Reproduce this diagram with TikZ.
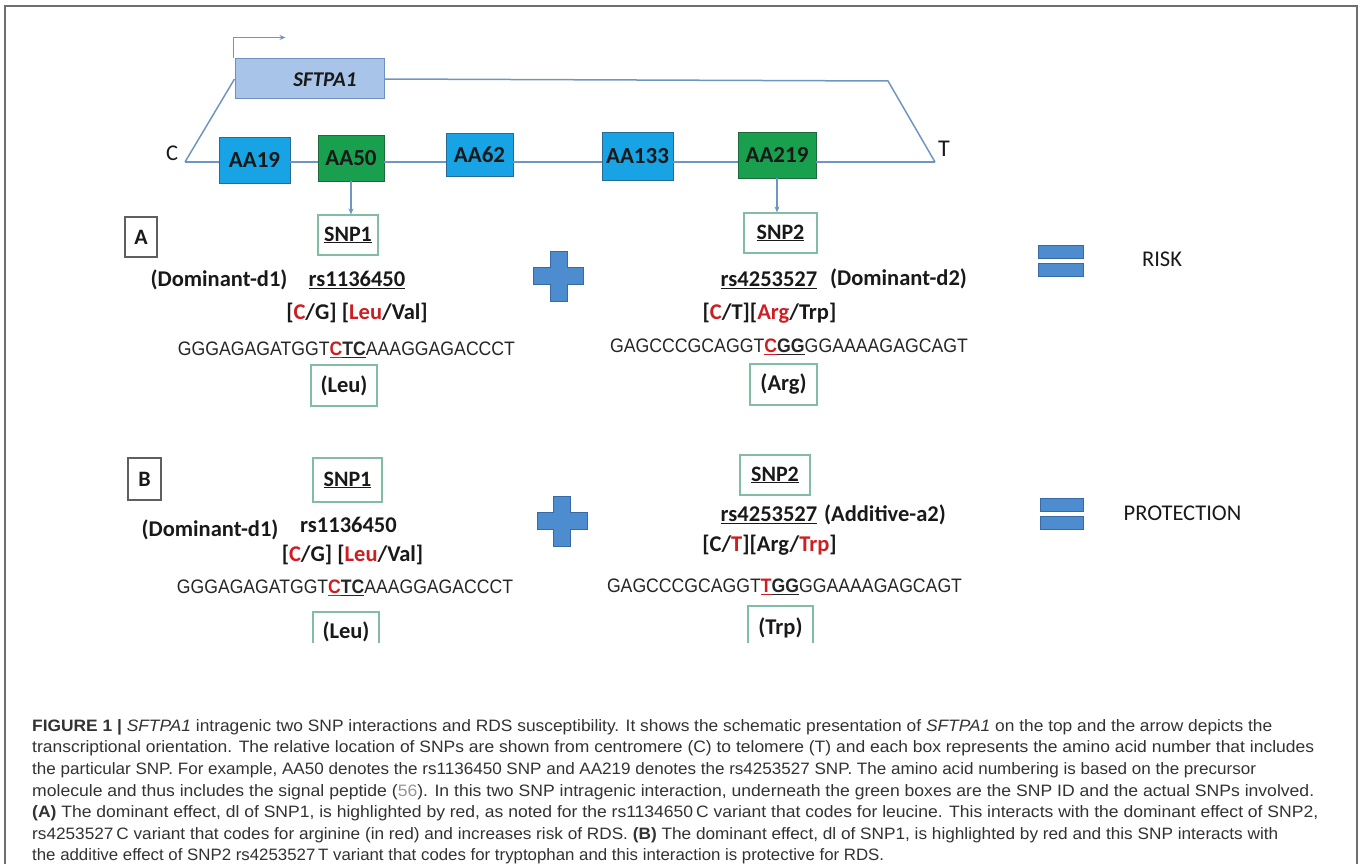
\documentclass[tikz,border=0pt]{standalone}
\usepackage{fontspec}
\setmainfont{Carlito}
\newfontfamily\arialf{Liberation Sans}
\usepackage{graphicx}
\usetikzlibrary{arrows.meta}
\definecolor{blueF}{RGB}{24,164,228}
\definecolor{blueD}{RGB}{40,105,150}
\definecolor{greenF}{RGB}{24,160,78}
\definecolor{greenD}{RGB}{30,105,60}
\definecolor{geneF}{RGB}{168,196,232}
\definecolor{geneD}{RGB}{110,145,195}
\definecolor{lineC}{RGB}{110,150,195}
\definecolor{snpD}{RGB}{130,188,165}
\definecolor{boxG}{RGB}{95,95,95}
\definecolor{redC}{RGB}{205,30,35}
\definecolor{symF}{RGB}{78,140,208}
\definecolor{symD}{RGB}{55,105,165}
\definecolor{frameC}{RGB}{110,110,110}
\definecolor{capC}{RGB}{50,50,50}
\definecolor{linkC}{RGB}{150,150,150}
\newcommand\capl[2]{\resizebox{#1pt}{\height}{#2}}
\newcommand\plusat[1]{\draw[sym] ([shift={(-8.5,-25)}]#1) -- ([shift={(8.5,-25)}]#1) -- ([shift={(8.5,-8.5)}]#1) -- ([shift={(25,-8.5)}]#1) -- ([shift={(25,8.5)}]#1) -- ([shift={(8.5,8.5)}]#1) -- ([shift={(8.5,25)}]#1) -- ([shift={(-8.5,25)}]#1) -- ([shift={(-8.5,8.5)}]#1) -- ([shift={(-25,8.5)}]#1) -- ([shift={(-25,-8.5)}]#1) -- ([shift={(-8.5,-8.5)}]#1) -- cycle;}
\tikzset{
  gl/.style={draw=lineC, line width=1.5pt},
  arr/.style={draw=lineC, line width=1.2pt, -{Stealth[length=6pt,width=5pt]}},
  aa/.style={draw=blueD, fill=blueF, line width=0.8pt, inner sep=0pt, text=black!90, font=\fontsize{23}{26}\selectfont\bfseries},
  aag/.style={aa, draw=greenD, fill=greenF},
  gene/.style={draw=geneD, fill=geneF, line width=1pt, inner sep=0pt, minimum width=149pt, minimum height=40pt},
  snpb/.style={draw=snpD, line width=1.2pt, inner sep=0pt, text=black!90, font=\fontsize{22}{26}\selectfont\bfseries},
  snpl/.style={draw=snpD, line width=1.2pt},
  abox/.style={draw=boxG, line width=1.2pt, inner sep=0pt, text=black!90, font=\fontsize{22}{26}\selectfont\bfseries},
  lbl/.style={inner sep=0pt, text=black!90, font=\fontsize{22.5}{27}\selectfont\bfseries},
  lblr/.style={inner sep=0pt, text=black!90, font=\fontsize{22.5}{27}\selectfont},
  seq/.style={inner sep=0pt, text=black!85, font=\arialf\fontsize{19.5}{23}\selectfont},
  sym/.style={draw=symD, fill=symF, line width=0.8pt},
  capt/.style={inner sep=0pt, anchor=base west, text=capC, font=\arialf\fontsize{16.5}{19}\selectfont}
}
\begin{document}
\begin{tikzpicture}[x=1pt,y=-1pt]
\useasboundingbox (0,0) rectangle (1360,864);
\draw[frameC, line width=1.2pt] (5,866) -- (5,6) -- (1357,6) -- (1357,866);

% gene structure
\coordinate (Cpt) at (185,162);
\coordinate (Tpt) at (935,162);
\coordinate (TR) at (888,81);
\node[gene] (gene) at (309.5,79) {};
\node[inner sep=0pt, text=black!90, font=\fontsize{21}{25}\selectfont\bfseries\itshape] (genet) at (325,80) {SFTPA1};
\draw[gl] (gene.east) -- (TR) -- (Tpt);
\draw[gl] (Cpt) -- (gene.west);
\draw[arr] ([xshift=-1pt]gene.north west) -- ++(0,-21) -- ++(52,0);

\node[aa, minimum width=71pt, minimum height=46pt] (aa19) at (254.5,160) {AA19};
\node[aag, minimum width=66pt, minimum height=46pt] (aa50) at (351,158) {AA50};
\node[aa, minimum width=67pt, minimum height=43pt] (aa62) at (479.5,154.5) {AA62};
\node[aa, minimum width=71pt, minimum height=48pt] (aa133) at (637.5,156) {AA133};
\node[aag, minimum width=78pt, minimum height=46pt] (aa219) at (777,155) {AA219};
\draw[gl] (Cpt) -- (aa19.west |- Cpt);
\draw[gl] (aa19.east |- Cpt) -- (aa50.west |- Cpt);
\draw[gl] (aa50.east |- Cpt) -- (aa62.west |- Cpt);
\draw[gl] (aa62.east |- Cpt) -- (aa133.west |- Cpt);
\draw[gl] (aa133.east |- Cpt) -- (aa219.west |- Cpt);
\draw[gl] (aa219.east |- Cpt) -- (Tpt);
\node[lblr] (Clab) at (172,153) {C};
\node[lblr, font=\fontsize{24}{28}\selectfont] (Tlab) at (944,149) {T};

% panel A
\node[abox, minimum width=32pt, minimum height=40pt] (Abox) at (141,237) {A};
\node[snpb, minimum width=60pt, minimum height=40pt] (snp1a) at (348,235) {\underline{SNP1}};
\node[snpb, minimum width=73pt, minimum height=40pt] (snp2a) at (780.5,233) {\underline{SNP2}};
\draw[arr] (aa50.south) -- (aa50.south |- snp1a.north);
\draw[arr] (aa219.south) -- (aa219.south |- snp2a.north);

\node[lbl] (domA1) at (219,280) {(Dominant-d1)};
\node[lbl] (rsA1) at (357,280) {\underline{rs1136450}};
\node[lbl] (alA1) at (357,313) {[\textcolor{redC}{C}/G] [\textcolor{redC}{Leu}/Val]};
\node[seq] (sqA1) at (346.5,350) {\capl{337}{GGGAGAGATGGT\textbf{\textcolor{redC}{\underline{C}}\underline{TC}}AAAGGAGACCCT}};
\node[snpb, font=\fontsize{22.5}{27}\selectfont\bfseries, minimum width=66pt, minimum height=41pt] (leuA) at (344,385.5) {(Leu)};

\node[lbl] (rsA2) at (769,280) {\underline{rs4253527}};
\node[lbl] (domA2) at (898.5,279) {(Dominant-d2)};
\node[lbl] (alA2) at (769.5,313) {[\textcolor{redC}{C}/T][\textcolor{redC}{Arg}/Trp]};
\node[seq] (sqA2) at (789,347) {\capl{358}{GAGCCCGCAGGT\textbf{\textcolor{redC}{\underline{C}}\underline{GG}}GGAAAAGAGCAGT}};
\node[snpb, font=\fontsize{22.5}{27}\selectfont\bfseries, minimum width=67pt, minimum height=41pt] (argA) at (783.5,384.5) {(Arg)};

\coordinate (plusA) at (558.5,276);
\plusat{plusA}
\draw[sym] (1038,245) rectangle (1083,258);
\draw[sym] (1038,263) rectangle (1083,276);
\node[lblr] (risk) at (1162,259) {RISK};

% panel B
\node[abox, minimum width=33pt, minimum height=42pt] (Bbox) at (144.5,479) {B};
\node[snpb, minimum width=69pt, minimum height=44pt] (snp1b) at (347.5,480) {\underline{SNP1}};
\node[snpb, minimum width=70pt, minimum height=40pt] (snp2b) at (775,475) {\underline{SNP2}};

\node[lbl] (domB1) at (210,530) {(Dominant-d1)};
\node[lbl] (rsB1) at (348.5,525) {rs1136450};
\node[lbl] (alB1) at (352.5,555) {[\textcolor{redC}{C}/G] [\textcolor{redC}{Leu}/Val]};
\node[seq] (sqB1) at (345,588) {\capl{336}{GGGAGAGATGGT\textbf{\textcolor{redC}{\underline{C}}\underline{TC}}AAAGGAGACCCT}};
\node[lbl] (leuB) at (346,632) {(Leu)};
\draw[snpl] (313,643) -- (313,612) -- (379,612) -- (379,643);

\node[lbl] (rsB2) at (769,515) {\underline{rs4253527}};
\node[lbl] (addB2) at (885,515) {(Additive-a2)};
\node[lbl] (alB2) at (769.5,545) {[C/\textcolor{redC}{T}][Arg/\textcolor{redC}{Trp}]};
\node[seq] (sqB2) at (784.5,587) {\capl{355}{GAGCCCGCAGGT\textbf{\textcolor{redC}{\underline{T}}\underline{GG}}GGAAAAGAGCAGT}};
\node[lbl] (trpB) at (780.5,628) {(Trp)};
\draw[snpl] (748,643) -- (748,606) -- (813,606) -- (813,643);

\coordinate (plusB) at (562,521);
\plusat{plusB}
\draw[sym] (1040,498) rectangle (1083,511);
\draw[sym] (1040,516) rectangle (1083,529);
\node[lblr] (prot) at (1182.5,513) {PROTECTION};

% caption
\node[capt] (cap1) at (32,731) {\capl{1240}{\textbf{FIGURE 1 |} \textit{SFTPA1} intragenic two SNP interactions and RDS susceptibility. It shows the schematic presentation of \textit{SFTPA1} on the top and the arrow depicts the}};
\node[capt] (cap2) at (32,752.5) {\capl{1282}{transcriptional orientation. The relative location of SNPs are shown from centromere (C) to telomere (T) and each box represents the amino acid number that includes}};
\node[capt] (cap3) at (32,774) {\capl{1224}{the particular SNP. For example, AA50 denotes the rs1136450 SNP and AA219 denotes the rs4253527 SNP. The amino acid numbering is based on the precursor}};
\node[capt] (cap4) at (32,796) {\capl{1282}{molecule and thus includes the signal peptide (\textcolor{linkC}{56}). In this two SNP intragenic interaction, underneath the green boxes are the SNP ID and the actual SNPs involved.}};
\node[capt] (cap5) at (32,817.5) {\capl{1286}{\textbf{(A)} The dominant effect, dl of SNP1, is highlighted by red, as noted for the rs1134650\,C variant that codes for leucine. This interacts with the dominant effect of SNP2,}};
\node[capt] (cap6) at (32,839) {\capl{1246}{rs4253527\,C variant that codes for arginine (in red) and increases risk of RDS. \textbf{(B)} The dominant effect, dl of SNP1, is highlighted by red and this SNP interacts with}};
\node[capt] (cap7) at (32,860.5) {\capl{852}{the additive effect of SNP2 rs4253527\,T variant that codes for tryptophan and this interaction is protective for RDS.}};
\end{tikzpicture}
\end{document}
